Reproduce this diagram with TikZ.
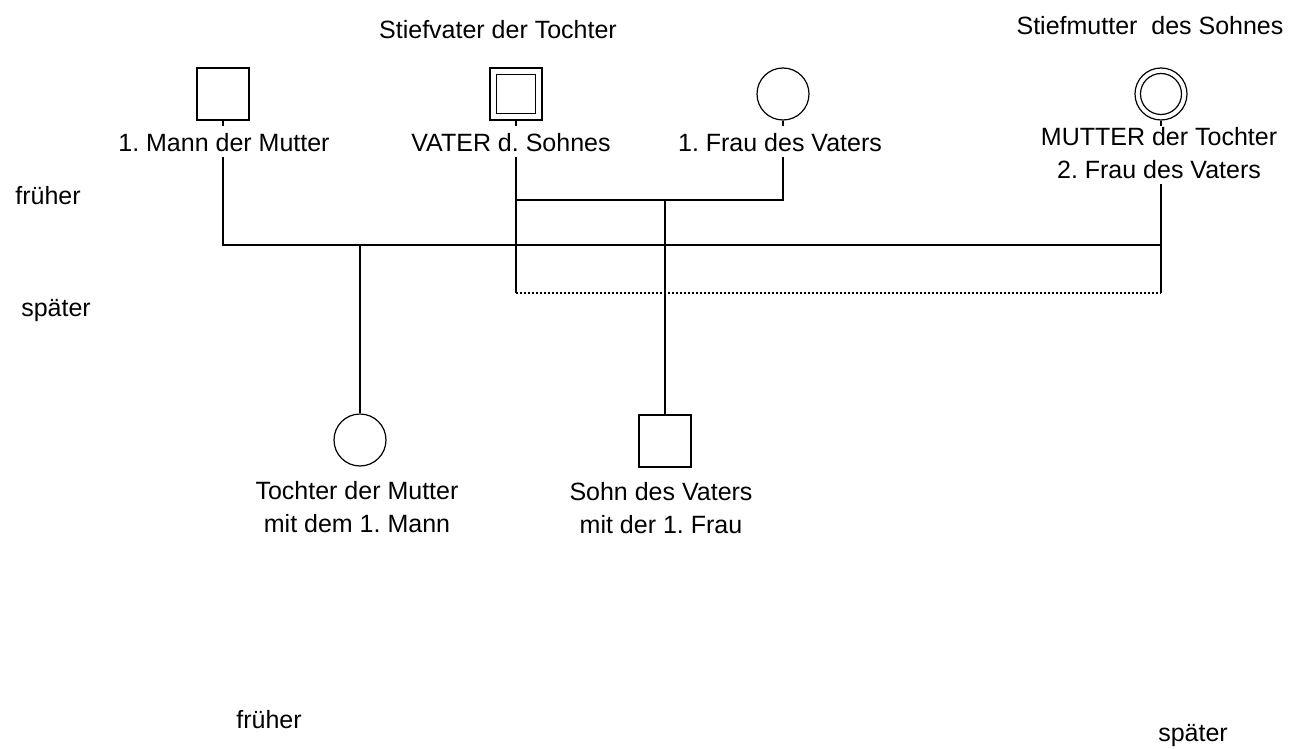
\documentclass[tikz,border=0pt]{standalone}
\usepackage{fontspec}
\setmainfont{Liberation Sans}
\frenchspacing
\begin{document}
\begin{tikzpicture}[x=1pt,y=-1pt,
  lw/.style={line width=1.6pt},
  male/.style={draw,lw,rectangle,minimum size=52pt,inner sep=0pt},
  female/.style={draw,line width=1.2pt,circle,minimum size=52pt,inner sep=0pt},
  lbl/.style={font=\fontsize{25}{33}\selectfont,inner xsep=0pt,inner ysep=5pt,align=center},
  link/.style={lw},
  dotline/.style={line width=1.6pt,dash pattern=on 1.6pt off 2.4pt}]
\useasboundingbox[fill=white] (0,0) rectangle (1296,749);
% persons
\node[male] (mann1) at (223,94) {};
\node[male] (vater) at (516,94) {};
\node[draw,lw,minimum size=39pt,inner sep=0pt] (vaterin) at (516,94) {};
\node[female] (frau1) at (783,94) {};
\node[female] (mutter) at (1161,94) {};
\node[draw,line width=1.2pt,circle,minimum size=41pt,inner sep=0pt] (mutterin) at (1161,94) {};
\node[female] (tochter) at (360,440) {};
\node[male] (sohn) at (665,441) {};
% labels
\node[lbl] (lmann) at (224,143) {1. Mann der Mutter};
\node[lbl] (lvater) at (511,143) {VATER d. Sohnes};
\node[lbl] (lstiefv) at (498,30) {Stiefvater der Tochter};
\node[lbl] (lfrau) at (780,143) {1. Frau des Vaters};
\node[lbl] (lstiefm) at (1150,26) {Stiefmutter~~des Sohnes};
\node[lbl] (lmutter) at (1159,153) {MUTTER der Tochter\\2. Frau des Vaters};
\node[lbl] (ltochter) at (357,507) {Tochter der Mutter\\mit dem 1. Mann};
\node[lbl] (lsohn) at (661,508) {Sohn des Vaters\\mit der 1. Frau};
\node[lbl] (fr1) at (48,196) {früher};
\node[lbl] (sp1) at (56,311) {später};
\node[lbl] (fr2) at (269,720) {früher};
\node[lbl] (sp2) at (1193,736) {später};
% junctions
\coordinate (j1) at (223,245);
\coordinate (j2) at (1161,245);
\coordinate (jd1) at (516,293);
\coordinate (jd2) at (1161,293);
\coordinate (jv) at (516,200);
\coordinate (jf) at (783,200);
\coordinate (jc1) at (360,245);
\coordinate (jc2) at (665,200);
% stubs
\draw[link] (mann1.south) -- ++(0,5);
\draw[link] (vater.south) -- ++(0,5);
\draw[link] (frau1.south) -- ++(0,5);
\draw[link] (mutter.south) -- ++(0,5);
% connectors
\draw[link] (mann1 |- lmann.south) -- (j1) -- (j2);
\draw[link] (mutter |- lmutter.south) -- (jd2);
\draw[dotline] (jd1) -- (jd2);
\draw[link] (vater |- lvater.south) -- (jd1);
\draw[link] (frau1 |- lfrau.south) -- (jf) -- (jv);
\draw[link] (jc1) -- (tochter.north);
\draw[link] (jc2) -- (sohn.north);
\end{tikzpicture}
\end{document}
